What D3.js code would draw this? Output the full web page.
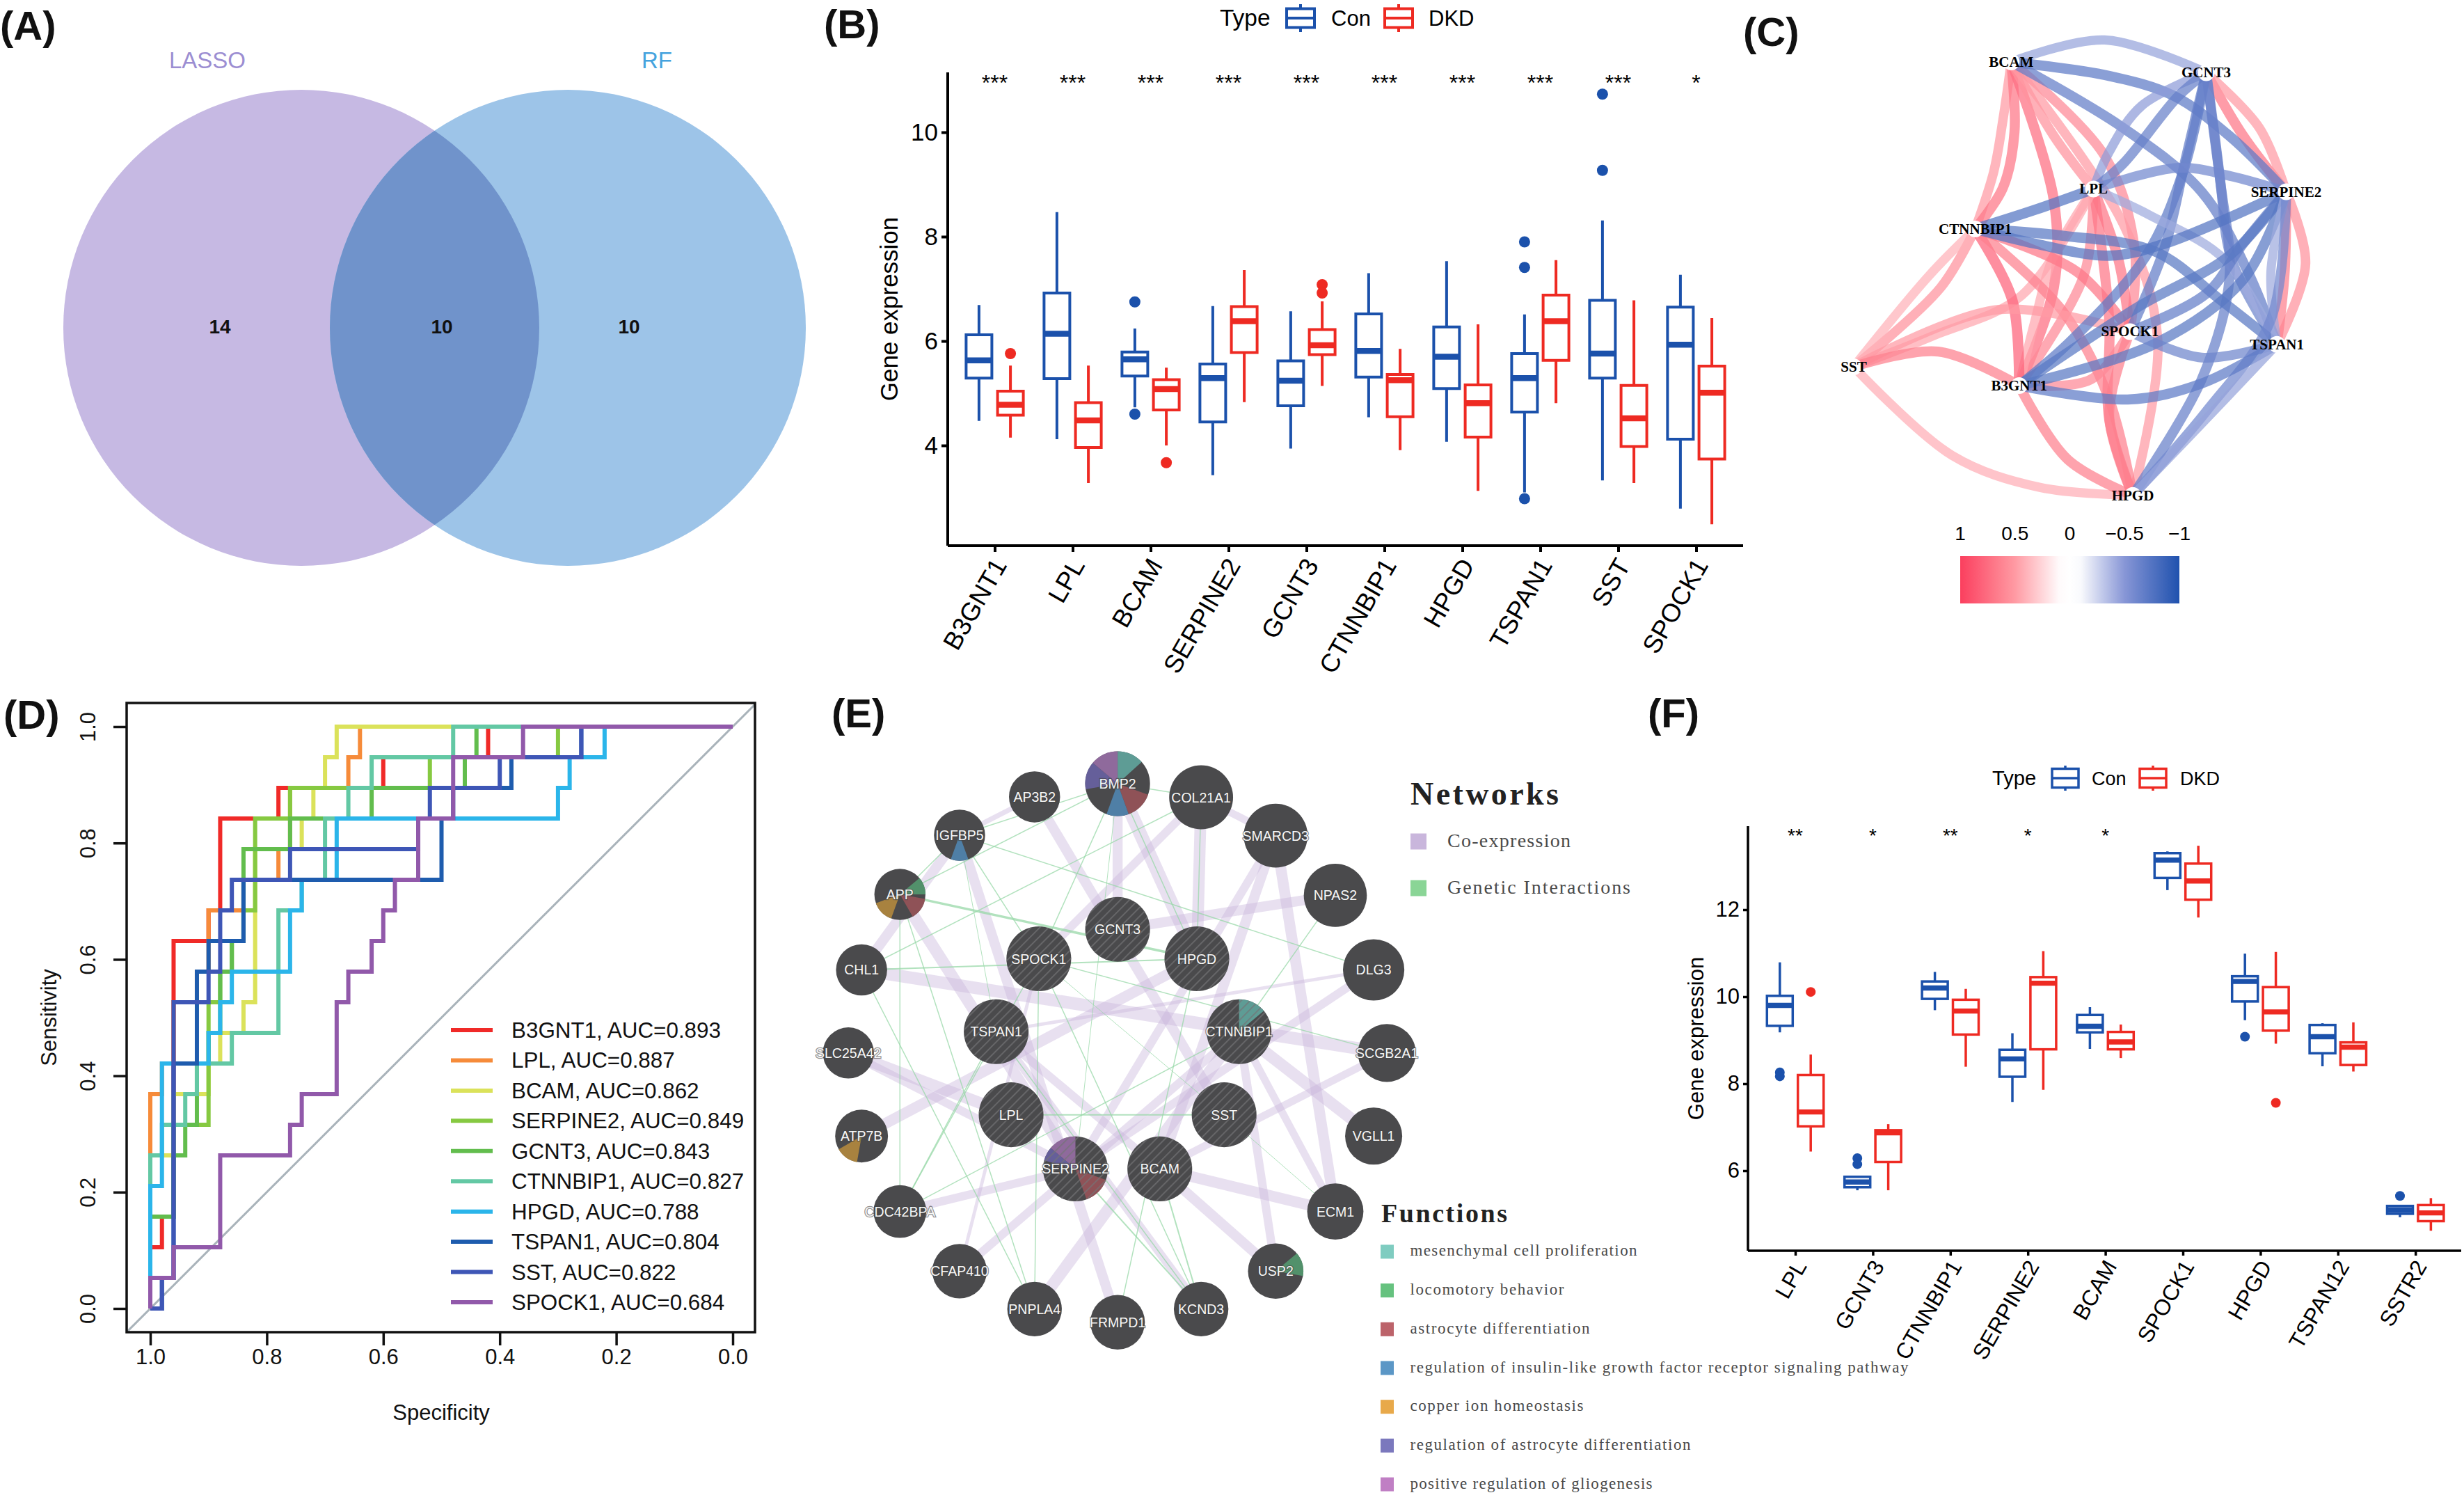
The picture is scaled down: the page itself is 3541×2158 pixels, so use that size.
<!DOCTYPE html>
<html><head><meta charset="utf-8">
<script src="https://cdn.jsdelivr.net/npm/d3@7"></script>
<style>
html,body{margin:0;padding:0;background:#fff}
svg{display:block;font-family:"Liberation Sans",Arial,sans-serif}
</style></head><body>
<svg id="c" width="3541" height="2158" viewBox="0 0 3541 2158"></svg>
<script>
// ---------- Panel A ----------
const vennSets = ["LASSO","RF"];
const vennOnlyLasso = 14, vennBoth = 10, vennOnlyRf = 10;

// ---------- Panel B ----------
const bGenes = ["B3GNT1","LPL","BCAM","SERPINE2","GCNT3","CTNNBIP1","HPGD","TSPAN1","SST","SPOCK1"];
const bSig = ["***","***","***","***","***","***","***","***","***","*"];
// [low whisker, q1, median, q3, high whisker]
const bCon = [[4.47,5.29,5.63,6.12,6.69],[4.12,5.28,6.14,6.92,8.47],[4.73,5.33,5.65,5.79,6.24],[3.43,4.45,5.29,5.56,6.67],[3.94,4.76,5.24,5.62,6.57],[4.54,5.31,5.81,6.52,7.30],[4.07,5.09,5.70,6.27,7.53],[3.10,4.64,5.29,5.76,6.51],[3.33,5.29,5.76,6.78,8.31],[2.79,4.12,5.93,6.65,7.27]];
const bDkd = [[4.15,4.58,4.78,5.04,5.53],[3.28,3.96,4.48,4.82,5.53],[4.00,4.68,5.08,5.26,5.49],[4.83,5.78,6.38,6.66,7.36],[5.14,5.74,5.92,6.22,6.76],[3.91,4.55,5.25,5.36,5.85],[3.13,4.16,4.81,5.16,6.32],[4.81,5.63,6.38,6.88,7.55],[3.28,3.98,4.52,5.15,6.78],[2.49,3.74,5.01,5.52,6.44]];
const bConOut = [[],[],[6.75,4.6],[],[],[],[],[7.9,7.41,2.98],[10.73,9.27],[]];
const bDkdOut = [[5.76],[],[3.67],[],[7.08,6.92],[],[],[],[],[]];
const bTicks = [4,6,8,10];

// ---------- Panel C ----------
const cNodes = [["BCAM",588,155],["GCNT3",1010,182],["LPL",766,473],["SERPINE2",1183,480],["CTNNBIP1",510,573],["SST",247,918],["SPOCK1",845,830],["TSPAN1",1163,862],["B3GNT1",605,965],["HPGD",851,1240]];
// [from, to, correlation, via points in layout units]
const cEdges = [
["BCAM","CTNNBIP1",0.5,[[570,300],[550,430]]],
["BCAM","CTNNBIP1",0.7,[[595,330],[570,470]]],
["BCAM","B3GNT1",0.75,[[680,500],[680,720]]],
["BCAM","LPL",0.55,[[680,340]]],
["BCAM","SPOCK1",0.6,[[790,390],[855,620]]],
["BCAM","HPGD",0.5,[[830,560],[905,850]]],
["GCNT3","SERPINE2",0.7,[[1090,340]]],
["GCNT3","SERPINE2",0.5,[[1125,320]]],
["SERPINE2","TSPAN1",0.55,[[1225,660]]],
["SERPINE2","TSPAN1",0.65,[[1180,680]]],
["LPL","B3GNT1",0.6,[[745,690]]],
["LPL","B3GNT1",0.45,[[680,640],[640,800]]],
["LPL","SPOCK1",0.7,[[820,650]]],
["LPL","HPGD",0.7,[[800,800],[800,1050]]],
["LPL","SST",0.45,[[610,740],[420,840]]],
["CTNNBIP1","SST",0.55,[[435,720]]],
["CTNNBIP1","SST",0.4,[[410,690]]],
["CTNNBIP1","B3GNT1",0.8,[[590,750]]],
["CTNNBIP1","SPOCK1",0.7,[[730,680]]],
["CTNNBIP1","HPGD",0.65,[[700,780],[800,1000]]],
["SST","SPOCK1",0.5,[[560,775]]],
["SST","B3GNT1",0.65,[[430,880]]],
["SST","HPGD",0.42,[[460,1140],[650,1220]]],
["SPOCK1","B3GNT1",0.6,[[760,950]]],
["SPOCK1","HPGD",0.65,[[800,1040]]],
["B3GNT1","HPGD",0.65,[[710,1150]]],
["BCAM","GCNT3",-0.45,[[790,100]]],
["BCAM","SERPINE2",-0.7,[[800,190],[940,240],[1060,340]]],
["BCAM","TSPAN1",-0.68,[[830,320],[1000,480],[1100,680]]],
["GCNT3","LPL",-0.48,[[870,265],[800,380]]],
["GCNT3","LPL",-0.66,[[950,240],[830,410]]],
["GCNT3","B3GNT1",-0.7,[[960,430],[880,640],[720,850]]],
["GCNT3","SPOCK1",-0.68,[[965,400],[920,620]]],
["GCNT3","TSPAN1",-0.62,[[1040,450],[1065,650]]],
["GCNT3","HPGD",-0.66,[[1040,450],[1060,700],[1000,950]]],
["LPL","SERPINE2",-0.6,[[950,420],[1060,440]]],
["LPL","TSPAN1",-0.42,[[890,540],[1050,650]]],
["LPL","CTNNBIP1",-0.75,[[640,525]]],
["CTNNBIP1","SERPINE2",-0.75,[[640,610],[800,640],[920,610]]],
["CTNNBIP1","TSPAN1",-0.72,[[700,590],[900,630],[1040,750]]],
["SERPINE2","SPOCK1",-0.68,[[1090,610],[1010,735]]],
["SERPINE2","B3GNT1",-0.72,[[1060,640],[860,770]]],
["SERPINE2","B3GNT1",-0.72,[[1090,700],[900,860]]],
["SERPINE2","TSPAN1",-0.42,[[1150,680]]],
["SERPINE2","HPGD",-0.6,[[1150,800],[1010,1030]]],
["SPOCK1","TSPAN1",-0.62,[[1000,895]]],
["B3GNT1","TSPAN1",-0.7,[[840,1000],[1000,960]]],
["TSPAN1","HPGD",-0.45,[[1050,1000]]]
];
const cLegendTicks = [1,0.5,0,-0.5,-1];

// ---------- Panel D ----------
const rocNames = ["B3GNT1","LPL","BCAM","SERPINE2","GCNT3","CTNNBIP1","HPGD","TSPAN1","SST","SPOCK1"];
const rocAuc = ["0.893","0.887","0.862","0.849","0.843","0.827","0.788","0.804","0.822","0.684"];
const rocCases = 19;
// [specificity, number of cases detected]
const rocB3GNT1 = [[1,0],[1,2],[.98,2],[.98,3],[.96,3],[.96,12],[.90,12],[.90,13],[.88,13],[.88,16],[.78,16],[.78,17],[.60,17],[.60,18],[.42,18],[.42,19],[0,19]];
const rocLPL = [[1,0],[1,7],[.98,7],[.98,8],[.96,8],[.96,10],[.92,10],[.92,11],[.90,11],[.90,13],[.84,13],[.84,14],[.78,14],[.78,15],[.76,15],[.76,17],[.66,17],[.66,18],[.64,18],[.64,19],[0,19]];
const rocBCAM = [[1,0],[1,5],[.96,5],[.96,7],[.90,7],[.90,8],[.88,8],[.88,9],[.84,9],[.84,10],[.82,10],[.82,15],[.74,15],[.74,16],[.72,16],[.72,17],[.70,17],[.70,18],[.68,18],[.68,19],[0,19]];
const rocSERPINE2 = [[1,0],[1,3],[.96,3],[.96,6],[.90,6],[.90,10],[.88,10],[.88,11],[.86,11],[.86,12],[.84,12],[.84,13],[.82,13],[.82,16],[.76,16],[.76,17],[.52,17],[.52,18],[.30,18],[.30,19],[0,19]];
const rocGCNT3 = [[1,0],[1,3],[.96,3],[.96,5],[.94,5],[.94,6],[.92,6],[.92,8],[.90,8],[.90,9],[.88,9],[.88,11],[.86,11],[.86,12],[.84,12],[.84,15],[.76,15],[.76,16],[.62,16],[.62,17],[.46,17],[.46,18],[.44,18],[.44,19],[0,19]];
const rocCTNNBIP1 = [[1,0],[1,5],[.98,5],[.98,6],[.94,6],[.94,7],[.92,7],[.92,8],[.86,8],[.86,9],[.78,9],[.78,13],[.74,13],[.74,14],[.70,14],[.70,16],[.66,16],[.66,17],[.62,17],[.62,18],[.48,18],[.48,19],[0,19]];
const rocHPGD = [[1,0],[1,4],[.98,4],[.98,8],[.90,8],[.90,9],[.88,9],[.88,10],[.86,10],[.86,11],[.76,11],[.76,13],[.74,13],[.74,14],[.68,14],[.68,16],[.30,16],[.30,17],[.28,17],[.28,18],[.22,18],[.22,19],[0,19]];
const rocTSPAN1 = [[1,0],[.98,0],[.98,1],[.96,1],[.96,8],[.92,8],[.92,11],[.90,11],[.90,12],[.84,12],[.84,14],[.50,14],[.50,16],[.48,16],[.48,17],[.38,17],[.38,18],[.26,18],[.26,19],[0,19]];
const rocSST = [[1,0],[.98,0],[.98,1],[.96,1],[.96,10],[.90,10],[.90,11],[.88,11],[.88,13],[.86,13],[.86,14],[.76,14],[.76,15],[.54,15],[.54,16],[.52,16],[.52,17],[.40,17],[.40,18],[.26,18],[.26,19],[0,19]];
const rocSPOCK1 = [[1,0],[1,1],[.96,1],[.96,2],[.88,2],[.88,5],[.76,5],[.76,6],[.74,6],[.74,7],[.68,7],[.68,10],[.66,10],[.66,11],[.62,11],[.62,12],[.60,12],[.60,13],[.58,13],[.58,14],[.54,14],[.54,16],[.48,16],[.48,18],[.36,18],[.36,19],[0,19]];
const rocTicks = [0,0.2,0.4,0.6,0.8,1];

// ---------- Panel E ----------
// [name, x, y, size] in layout units
const eNodes = [["BMP2",745,173,76],["AP3B2",550,204,60],["COL21A1",941,205,75],["IGFBP5",374,294,60],["SMARCD3",1116,295,75],["APP",234,433,60],["NPAS2",1256,435,74],["GCNT3",745,515,76],["SPOCK1",560,584,76],["HPGD",931,584,76],["CHL1",144,610,60],["DLG3",1346,610,72],["TSPAN1",460,755,76],["CTNNBIP1",1030,755,76],["SLC25A42",113,805,60],["SCGB2A1",1377,805,68],["LPL",495,950,76],["SST",995,950,76],["ATP7B",144,1000,62],["VGLL1",1346,1000,67],["SERPINE2",646,1077,76],["BCAM",844,1077,76],["CDC42BPA",234,1177,62],["ECM1",1256,1177,66],["CFAP410",374,1317,64],["USP2",1116,1317,65],["PNPLA4",550,1406,64],["KCND3",941,1406,64],["FRMPD1",745,1437,64]];
const eQuery = ["GCNT3","SPOCK1","HPGD","TSPAN1","CTNNBIP1","LPL","SST","SERPINE2","BCAM"];
const eCoExpression = [["AP3B2","SST",12],["IGFBP5","CHL1",12],["IGFBP5","FRMPD1",12],["BMP2","GCNT3",12],["BMP2","HPGD",16],["COL21A1","HPGD",14],["COL21A1","SPOCK1",10],["COL21A1","SMARCD3",9],["SMARCD3","BCAM",12],["SMARCD3","SERPINE2",10],["SMARCD3","ECM1",13],["NPAS2","GCNT3",12],["DLG3","TSPAN1",4],["DLG3","SERPINE2",10],["CHL1","SCGB2A1",15],["SLC25A42","LPL",14],["SLC25A42","SERPINE2",10],["ATP7B","HPGD",13],["CFAP410","CTNNBIP1",10],["PNPLA4","CTNNBIP1",14],["TSPAN1","KCND3",10],["CDC42BPA","SERPINE2",10],["BCAM","ECM1",13],["VGLL1","CTNNBIP1",14],["USP2","BCAM",12],["USP2","CTNNBIP1",10],["ECM1","CTNNBIP1",9],["APP","SERPINE2",14],["SCGB2A1","BCAM",9],["TSPAN1","BCAM",10],["SPOCK1","CFAP410",4],["AP3B2","IGFBP5",6]];
const eGenetic = [["BMP2","IGFBP5",1.5],["BMP2","COL21A1",1.5],["BMP2","SPOCK1",1.5],["BMP2","HPGD",1.5],["BMP2","APP",1.5],["BMP2","SERPINE2",1],["APP","IGFBP5",1.5],["APP","HPGD",3.5],["COL21A1","CHL1",1.5],["IGFBP5","DLG3",1.5],["IGFBP5","SPOCK1",1.5],["APP","CDC42BPA",1.5],["APP","PNPLA4",1.5],["CHL1","HPGD",2],["CHL1","PNPLA4",1.5],["SPOCK1","PNPLA4",1.5],["SPOCK1","CDC42BPA",1.5],["SPOCK1","KCND3",1.5],["HPGD","FRMPD1",1.5],["COL21A1","HPGD",1.5],["SPOCK1","SCGB2A1",1.5],["SPOCK1","SST",1],["LPL","SST",2],["NPAS2","CTNNBIP1",1.5],["CTNNBIP1","CDC42BPA",1.5],["TSPAN1","CDC42BPA",1.5],["SERPINE2","KCND3",2],["BCAM","KCND3",2],["ECM1","SST",1],["IGFBP5","TSPAN1",1],["TSPAN1","KCND3",1.5]];
const eFunctions = ["mesenchymal cell proliferation","locomotory behavior","astrocyte differentiation","regulation of insulin-like growth factor receptor signaling pathway","copper ion homeostasis","regulation of astrocyte differentiation","positive regulation of gliogenesis"];
const eNetworks = ["Co-expression","Genetic Interactions"];
// [node, function index, start angle, end angle] (degrees clockwise from top)
const ePies = [["BMP2",0,0,48],["BMP2",2,110,160],["BMP2",3,160,200],["BMP2",5,-100,-50],["BMP2",6,-50,0],["IGFBP5",3,160,200],["APP",1,50,90],["APP",2,100,150],["APP",4,200,250],["ATP7B",4,190,240],["CTNNBIP1",0,0,50],["SERPINE2",6,-50,0],["SERPINE2",5,-75,-50],["SERPINE2",2,110,160],["USP2",1,50,100]];

// ---------- Panel F ----------
const fGenes = ["LPL","GCNT3","CTNNBIP1","SERPINE2","BCAM","SPOCK1","HPGD","TSPAN12","SSTR2"];
const fSig = ["**","*","**","*","*","","","",""];
const fCon = [[9.18,9.33,9.80,10.02,10.79],[5.55,5.62,5.74,5.86,5.86],[9.69,9.95,10.20,10.35,10.57],[7.58,8.16,8.57,8.78,9.16],[8.80,9.18,9.32,9.58,9.76],[12.45,12.73,13.14,13.30,13.34],[9.46,9.89,10.35,10.47,10.99],[8.40,8.70,9.08,9.35,9.39],[4.93,5.01,5.10,5.19,5.20]];
const fDkd = [[6.44,7.02,7.35,8.20,8.67],[5.55,6.20,6.87,6.93,7.07],[8.39,9.13,9.67,9.93,10.18],[7.86,8.79,10.31,10.45,11.05],[8.59,8.79,8.96,9.19,9.36],[11.82,12.23,12.66,13.06,13.47],[8.92,9.22,9.65,10.22,11.03],[8.28,8.43,8.84,8.95,9.41],[4.62,4.84,5.03,5.21,5.37]];
const fConOut = [[8.26,8.17],[6.29,6.15],[],[],[],[],[9.08],[],[5.42]];
const fDkdOut = [[10.11],[],[],[],[],[],[7.56],[],[]];
const fTicks = [6,8,10,12];

// ---------- Colours ----------
const conColor = "#1b51ab", dkdColor = "#ee2a22";
const legendGroups = ["Con","DKD"];

const svg = d3.select("#c");
const defs = svg.append("defs");
const FONT_SANS = '"Liberation Sans",Arial,sans-serif';
const FONT_SERIF = '"Liberation Serif","Times New Roman",serif';

// panel tags
[["(A)",0,57],["(B)",1184,55],["(C)",2505,66],["(D)",5,1047],["(E)",1195,1045],["(F)",2368,1045]].forEach(t=>{
  svg.append("text").attr("x",t[1]).attr("y",t[2]).attr("font-size",58).attr("font-weight","bold").attr("fill","#111").text(t[0]);
});

// ---------- A ----------
(function(){
  const sx = d3.scaleLinear([-1,1],[624.5-342,624.5+342]);
  const r = sx(1)-sx(0), cy = 471;
  const centres = [-0.56,0.56];
  const g = svg.append("g");
  defs.append("clipPath").attr("id","vennClip").append("circle").attr("cx",sx(centres[0])).attr("cy",cy).attr("r",r);
  g.append("circle").attr("cx",sx(centres[0])).attr("cy",cy).attr("r",r).attr("fill","#c6b9e3");
  g.append("circle").attr("cx",sx(centres[1])).attr("cy",cy).attr("r",r).attr("fill","#9dc4e8");
  g.append("circle").attr("cx",sx(centres[1])).attr("cy",cy).attr("r",r).attr("fill","#7093cb").attr("clip-path","url(#vennClip)");
  const setColor=["#9c8ed2","#45a3de"];
  [[298,0],[944,1]].forEach(d=>g.append("text").attr("x",d[0]).attr("y",98).attr("text-anchor","middle").attr("font-size",33).attr("fill",setColor[d[1]]).text(vennSets[d[1]]));
  [[316,vennOnlyLasso],[635,vennBoth],[904,vennOnlyRf]].forEach(d=>g.append("text").attr("x",d[0]).attr("y",479).attr("text-anchor","middle").attr("font-size",28).attr("font-weight","bold").attr("fill","#111").text(d[1]));
})();

// ---------- box plot helper ----------
function boxPanel(o){
  const g = svg.append("g");
  const x = d3.scalePoint(o.genes,[o.x0,o.x0+o.step*(o.genes.length-1)]);
  const y = d3.scaleLinear([o.vRef,o.vRef2],[o.yRef,o.yRef2]);
  const bottom=o.bottom, left=o.left;
  const yAxis = d3.axisLeft(y).tickValues(o.ticks).tickFormat(d3.format("d")).tickSize(o.tickLen).tickSizeOuter(0);
  const ya = g.append("g").attr("transform",`translate(${left},0)`).call(yAxis);
  ya.select(".domain").attr("d",`M0,${o.top}V${bottom}`).attr("stroke","#000").attr("stroke-width",o.axisW);
  ya.selectAll(".tick line").attr("stroke","#000").attr("stroke-width",o.axisW);
  ya.selectAll("text").attr("font-size",o.tickFont).attr("font-family",FONT_SANS).attr("fill","#000").attr("x",-(o.tickLen+5));
  const xAxis = d3.axisBottom(x).tickSize(o.tickLen).tickSizeOuter(0);
  const xa = g.append("g").attr("transform",`translate(0,${bottom})`).call(xAxis);
  xa.select(".domain").attr("d",`M${left},0H${o.right}`).attr("stroke","#000").attr("stroke-width",o.axisW);
  xa.selectAll(".tick line").attr("stroke","#000").attr("stroke-width",o.axisW);
  xa.selectAll("text").attr("font-size",o.catFont).attr("font-family",FONT_SANS).attr("fill","#000")
    .attr("text-anchor","end").attr("y",0).attr("dy",0)
    .attr("transform",`translate(${o.labDx},${o.labDy}) rotate(-60)`);
  g.append("text").attr("transform",`translate(${o.titleX},${o.titleY}) rotate(-90)`).attr("text-anchor","middle").attr("font-size",o.titleFont).attr("fill","#000").text("Gene expression");
  o.genes.forEach((gene,i)=>{
    if(o.sig[i]) g.append("text").attr("x",x(gene)).attr("y",o.sigY).attr("text-anchor","middle").attr("font-size",o.sigFont).attr("fill","#000").text(o.sig[i]);
  });
  [[o.con,o.conOut,conColor,-o.off],[o.dkd,o.dkdOut,dkdColor,o.off]].forEach(([stats,outs,col,off])=>{
    stats.forEach((s,i)=>{
      const cx = x(o.genes[i])+off;
      g.append("line").attr("x1",cx).attr("x2",cx).attr("y1",y(s[0])).attr("y2",y(s[4])).attr("stroke",col).attr("stroke-width",o.lw);
      g.append("rect").attr("x",cx-o.bw/2).attr("width",o.bw).attr("y",y(s[3])).attr("height",y(s[1])-y(s[3])).attr("fill","#fff").attr("stroke",col).attr("stroke-width",o.lw);
      g.append("line").attr("x1",cx-o.bw/2).attr("x2",cx+o.bw/2).attr("y1",y(s[2])).attr("y2",y(s[2])).attr("stroke",col).attr("stroke-width",o.lw*2.1);
      outs[i].forEach(v=>g.append("circle").attr("cx",cx).attr("cy",y(v)).attr("r",o.outR).attr("fill",col));
    });
  });
  // legend
  const L=o.legend;
  g.append("text").attr("x",L.typeX).attr("y",L.y+L.font*0.36).attr("font-size",L.font*1.08).attr("fill","#000").text("Type");
  legendGroups.forEach((name,i)=>{
    const col=i?dkdColor:conColor, kx=L.keyX[i], w=L.keyW;
    g.append("line").attr("x1",kx+w/2).attr("x2",kx+w/2).attr("y1",L.y-L.whisk).attr("y2",L.y+L.whisk).attr("stroke",col).attr("stroke-width",o.lw);
    g.append("rect").attr("x",kx).attr("y",L.y-L.boxH/2).attr("width",w).attr("height",L.boxH).attr("fill","#fff").attr("stroke",col).attr("stroke-width",o.lw);
    g.append("line").attr("x1",kx).attr("x2",kx+w).attr("y1",L.y).attr("y2",L.y).attr("stroke",col).attr("stroke-width",o.lw);
    g.append("text").attr("x",L.textX[i]).attr("y",L.y+L.font*0.36).attr("font-size",L.font).attr("fill","#000").text(name);
  });
}
boxPanel({genes:bGenes,sig:bSig,con:bCon,dkd:bDkd,conOut:bConOut,dkdOut:bDkdOut,ticks:bTicks,
  x0:1429.5,step:112,vRef:10,vRef2:4,yRef:190,yRef2:640,top:104,bottom:784,left:1362,right:2505,
  tickLen:9,axisW:4,tickFont:35,catFont:37,titleFont:35,titleX:1290,titleY:444,labDx:18,labDy:28,
  sigY:130,sigFont:32,off:22.6,bw:37,lw:4,outR:8,
  legend:{typeX:1753,y:26,font:31,keyX:[1849,1990],keyW:40,boxH:27,whisk:20,textX:[1913,2053]}});
boxPanel({genes:fGenes,sig:fSig,con:fCon,dkd:fDkd,conOut:fConOut,dkdOut:fDkdOut,ticks:fTicks,
  x0:2580,step:111.4,vRef:12,vRef2:6,yRef:1307,yRef2:1682,top:1187,bottom:1797,left:2512,right:3537,
  tickLen:7,axisW:3.5,tickFont:31,catFont:32,titleFont:31,titleX:2448,titleY:1492,labDx:17,labDy:22,
  sigY:1210,sigFont:28,off:22.2,bw:37,lw:3.5,outR:7,
  legend:{typeX:2863,y:1118,font:27,keyX:[2949,3075],keyW:38,boxH:27,whisk:18,textX:[3006,3133]}});

// ---------- C ----------
(function(){
  const g = svg.append("g");
  const sx = d3.scaleLinear([0,1568],[2500,3541]);
  const sy = d3.scaleLinear([0,1568],[0,900]);
  const pos = new Map(cNodes.map(n=>[n[0],[n[1],n[2]]]));
  const color = d3.scaleLinear([1,0.5,0.08,-0.08,-0.5,-1],["#fb3f5e","#ff9aa3","#ffffff","#ffffff","#8796d6","#1f51ae"]);
  const line = d3.line().x(d=>sx(d[0])).y(d=>sy(d[1])).curve(d3.curveCatmullRom.alpha(0.5));
  g.selectAll("path.e").data(cEdges).join("path")
    .attr("fill","none").attr("stroke",d=>color(d[2])).attr("stroke-opacity",0.72)
    .attr("stroke-width",d=>Math.abs(d[2])*5+11).attr("d",d=>line([pos.get(d[0]),...d[3],pos.get(d[1])]));
  g.selectAll("circle.n").data(cNodes).join("circle").attr("cx",d=>sx(d[1])).attr("cy",d=>sy(d[2])).attr("r",12).attr("fill","#fff");
  g.selectAll("text.n").data(cNodes).join("text").attr("x",d=>sx(d[1])).attr("y",d=>sy(d[2])+7).attr("text-anchor","middle")
    .style("font-family",FONT_SERIF).attr("font-weight","bold").attr("font-size",21).attr("fill","#000").text(d=>d[0]);
  // legend
  const lx = d3.scaleLinear([1,-1],[2817,3132]);
  const grad = defs.append("linearGradient").attr("id","corGrad");
  d3.range(1,-1.0001,-0.1).forEach(v=>{
    const t=(1-v)/2;
    grad.append("stop").attr("offset",t).attr("stop-color",color(v));
  });
  g.append("rect").attr("x",lx(1)).attr("y",799).attr("width",lx(-1)-lx(1)).attr("height",68).attr("fill","url(#corGrad)");
  cLegendTicks.forEach(v=>g.append("text").attr("x",lx(v)).attr("y",776).attr("text-anchor","middle").attr("font-size",28).attr("fill","#000").text(String(v).replace("-","\u2212")));
})();

// ---------- D ----------
(function(){
  const g = svg.append("g");
  const x = d3.scaleLinear([1,0],[216,1053]);
  const y = d3.scaleLinear([0,1],[1880,1044]);
  const L=182,R=1085,T=1010,B=1914;
  defs.append("clipPath").attr("id","rocClip").append("rect").attr("x",L).attr("y",T).attr("width",R-L).attr("height",B-T);
  g.append("line").attr("x1",x(x.invert(L))).attr("y1",y(1-x.invert(L))).attr("x2",x(x.invert(R))).attr("y2",y(1-x.invert(R))).attr("stroke","#a9b3ba").attr("stroke-width",3).attr("clip-path","url(#rocClip)");
  const curves=[rocB3GNT1,rocLPL,rocBCAM,rocSERPINE2,rocGCNT3,rocCTNNBIP1,rocHPGD,rocTSPAN1,rocSST,rocSPOCK1];
  const colors=["#f02a28","#f68b3a","#dbe25a","#86c941","#62bd4d","#63c8a4","#2bb5ea","#1e5cae","#3e56b6","#9159aa"];
  const line=d3.line().x(d=>x(d[0])).y(d=>y(d[1]/rocCases));
  curves.forEach((c,i)=>g.append("path").attr("d",line(c)).attr("fill","none").attr("stroke",colors[i]).attr("stroke-width",6).attr("stroke-linejoin","miter"));
  g.append("rect").attr("x",L).attr("y",T).attr("width",R-L).attr("height",B-T).attr("fill","none").attr("stroke","#111").attr("stroke-width",3.5);
  const xa=g.append("g").attr("transform",`translate(0,${B})`).call(d3.axisBottom(x).tickValues(rocTicks.slice().reverse()).tickFormat(d3.format(".1f")).tickSize(19));
  xa.select(".domain").remove();
  xa.selectAll("line").attr("stroke","#111").attr("stroke-width",3.5);
  xa.selectAll("text").attr("font-size",31).attr("font-family",FONT_SANS).attr("fill","#111").attr("y",46).attr("dy",0);
  const ya=g.append("g").attr("transform",`translate(${L},0)`).call(d3.axisLeft(y).tickValues(rocTicks).tickFormat(d3.format(".1f")).tickSize(19));
  ya.select(".domain").remove();
  ya.selectAll("line").attr("stroke","#111").attr("stroke-width",3.5);
  ya.selectAll("text").attr("font-size",31).attr("font-family",FONT_SANS).attr("fill","#111").attr("x",0).attr("dy",0).attr("text-anchor","middle").attr("transform","translate(-45,0) rotate(-90)");
  g.append("text").attr("x",634).attr("y",2040).attr("text-anchor","middle").attr("font-size",31).attr("fill","#111").text("Specificity");
  g.append("text").attr("transform","translate(81,1462) rotate(-90)").attr("text-anchor","middle").attr("font-size",31).attr("fill","#111").text("Sensitivity");
  const ly=d3.scalePoint(rocNames,[1480,1871]);
  rocNames.forEach((n,i)=>{
    g.append("line").attr("x1",648).attr("x2",708).attr("y1",ly(n)).attr("y2",ly(n)).attr("stroke",colors[i]).attr("stroke-width",6);
    g.append("text").attr("x",735).attr("y",ly(n)+11).attr("font-size",31.4).attr("fill","#111").text(`${n}, AUC=${rocAuc[i]}`);
  });
})();

// ---------- E ----------
(function(){
  const g = svg.append("g");
  const sx = d3.scaleLinear([0,1568],[1150,2110]);
  const sy = d3.scaleLinear([0,1568],[1020,1980]);
  const k = 960/1568;
  const pos = new Map(eNodes.map(n=>[n[0],n]));
  const fnColors=["#7fccc0","#66c27f","#bc636a","#5b97c6","#e8a94a","#7b78bd","#c07fc4"];
  const pieColors=["#5e9c95","#52916b","#8f5257","#4f7fa6","#a8823f","#655f9a","#8f6a9c"];
  const pat = defs.append("pattern").attr("id","hatch").attr("patternUnits","userSpaceOnUse").attr("width",9).attr("height",9).attr("patternTransform","rotate(45)");
  pat.append("line").attr("x1",0).attr("x2",0).attr("y1",0).attr("y2",9).attr("stroke","#747476").attr("stroke-width",3.5);
  g.selectAll("line.co").data(eCoExpression).join("line")
    .attr("x1",d=>sx(pos.get(d[0])[1])).attr("y1",d=>sy(pos.get(d[0])[2]))
    .attr("x2",d=>sx(pos.get(d[1])[1])).attr("y2",d=>sy(pos.get(d[1])[2]))
    .attr("stroke","#c9b4dc").attr("stroke-opacity",0.42).attr("stroke-width",d=>d[2]*1.2);
  g.selectAll("line.gi").data(eGenetic).join("line")
    .attr("x1",d=>sx(pos.get(d[0])[1])).attr("y1",d=>sy(pos.get(d[0])[2]))
    .attr("x2",d=>sx(pos.get(d[1])[1])).attr("y2",d=>sy(pos.get(d[1])[2]))
    .attr("stroke","#98d8a8").attr("stroke-opacity",0.75).attr("stroke-width",d=>d[2]);
  g.selectAll("circle.n").data(eNodes).join("circle").attr("cx",d=>sx(d[1])).attr("cy",d=>sy(d[2])).attr("r",d=>d[3]*k).attr("fill","#4a4a4c");
  const arc=d3.arc().innerRadius(0);
  ePies.forEach(p=>{
    const n=pos.get(p[0]);
    g.append("path").attr("transform",`translate(${sx(n[1])},${sy(n[2])})`)
      .attr("d",arc({outerRadius:n[3]*k,startAngle:p[2]*Math.PI/180,endAngle:p[3]*Math.PI/180})).attr("fill",pieColors[p[1]]);
  });
  g.selectAll("circle.q").data(eNodes.filter(n=>eQuery.includes(n[0]))).join("circle").attr("cx",d=>sx(d[1])).attr("cy",d=>sy(d[2])).attr("r",d=>d[3]*k).attr("fill","url(#hatch)").attr("opacity",0.75);
  g.selectAll("text.n").data(eNodes).join("text").attr("x",d=>sx(d[1])).attr("y",d=>sy(d[2])+7).attr("text-anchor","middle")
    .attr("font-size",19.5).attr("fill","#f6f6f6").attr("stroke","#444").attr("stroke-width",2.5).attr("stroke-opacity",0.6).attr("paint-order","stroke").text(d=>d[0]);
  // legends
  const head=(t,x,y,w,fs)=>g.append("text").attr("x",x).attr("y",y).style("font-family",FONT_SERIF).attr("font-weight","bold").attr("font-size",fs).attr("fill","#222").attr("textLength",w).attr("lengthAdjust","spacing").text(t);
  head("Networks",2027,1156,213,46);
  head("Functions",1985,1756,181,38);
  const netCols=["#c9b6dc","#8ad596"];
  const netWidth=[177,263];
  const netY=d3.scalePoint(eNetworks,[1209,1276]);
  eNetworks.forEach((t,i)=>{
    g.append("rect").attr("x",2027).attr("y",netY(t)-11.5).attr("width",23).attr("height",23).attr("fill",netCols[i]);
    g.append("text").attr("x",2080).attr("y",netY(t)+8).style("font-family",FONT_SERIF).attr("font-size",28).attr("fill","#4a4a4a").attr("textLength",netWidth[i]).attr("lengthAdjust","spacing").text(t);
  });
  const fnY=d3.scalePoint(eFunctions,[1798.4,2132.6]);
  const fnWidth=[326,221,258,716,249,403,348];
  eFunctions.forEach((t,i)=>{
    g.append("rect").attr("x",1984).attr("y",fnY(t)-10).attr("width",19).attr("height",20).attr("fill",fnColors[i]);
    g.append("text").attr("x",2026.5).attr("y",fnY(t)+6).style("font-family",FONT_SERIF).attr("font-size",23).attr("fill","#4a4a4a").attr("textLength",fnWidth[i]).attr("lengthAdjust","spacing").text(t);
  });
})();
</script>
</body></html>
